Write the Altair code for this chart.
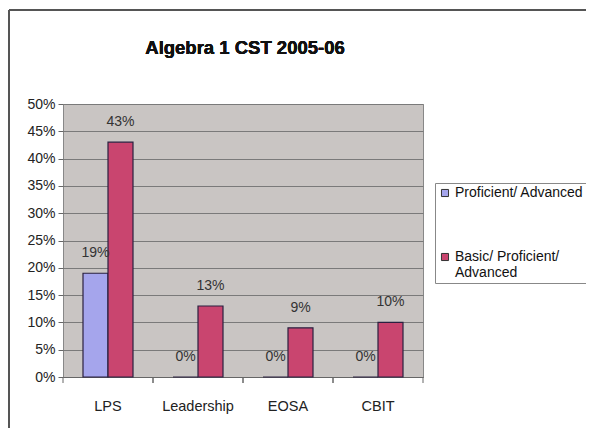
import altair as alt
import pandas as pd

categories = ["LPS", "Leadership", "EOSA", "CBIT"]
series_names = ["Proficient/ Advanced", "Basic/ Proficient/\nAdvanced"]
proficient_adv = [0.19, 0.0, 0.0, 0.0]
basic_prof_adv = [0.43, 0.13, 0.09, 0.10]
y_ticks = [0, 0.05, 0.10, 0.15, 0.20, 0.25, 0.30, 0.35, 0.40, 0.45, 0.50]
chart_title = "Algebra 1 CST 2005-06"

rows = []
for i, c in enumerate(categories):
    rows.append({"cat": c, "series": series_names[0], "val": proficient_adv[i]})
    rows.append({"cat": c, "series": series_names[1], "val": basic_prof_adv[i]})
df = pd.DataFrame(rows)
cat_df = pd.DataFrame({"cat": categories})

FONT = "Liberation Sans"

xscale = alt.Scale(paddingInner=0, paddingOuter=0)
x = alt.X("cat:N", sort=categories, title=None, scale=xscale,
          axis=alt.Axis(labelAngle=0, labelFontSize=14.5, labelColor="#222",
                        labelFont=FONT, ticks=False, domainColor="#666",
                        labelPadding=22))
xo = alt.XOffset("series:N", sort=series_names,
                 scale=alt.Scale(paddingInner=0, paddingOuter=0.8))
yaxis = alt.Axis(values=y_ticks, format=".0%", labelFontSize=14,
                 labelFont=FONT, labelColor="#222", tickSize=5,
                 tickColor="#666", domain=False, labelOverlap=False,
                 gridColor="#7a7a7a", gridWidth=1, labelPadding=3)
y = alt.Y("val:Q", title=None,
          scale=alt.Scale(domain=[0, 0.5], nice=False), axis=yaxis)

bars = alt.Chart(df).mark_bar(stroke="#2a2040", strokeWidth=1.2).encode(
    x=x, xOffset=xo, y=y,
    color=alt.Color("series:N", sort=series_names,
                    scale=alt.Scale(domain=series_names,
                                    range=["#a5a5ec", "#c9456f"]),
                    legend=alt.Legend(title=None, orient="none",
                                      legendX=372, legendY=79,
                                      labelFont=FONT, labelFontSize=14,
                                      labelColor="#111", symbolType="square",
                                      symbolSize=50, symbolStrokeColor="#333",
                                      symbolStrokeWidth=1,
                                      strokeColor="#888", padding=3,
                                      labelOffset=3,
                                      rowPadding=50, labelLimit=300,
                                      labelExpr="split(datum.label, '\\n')")),
)

labels = alt.Chart(df).mark_text(dy=-13, font=FONT, fontSize=14,
                                 color="#333", baseline="bottom").encode(
    x=x, xOffset=xo, y=y,
    text=alt.Text("val:Q", format=".0%"),
)

ticks_left = alt.Chart(cat_df).mark_rule(color="#666").encode(
    x=alt.X("cat:N", sort=categories, bandPosition=0),
    y=alt.value(273), y2=alt.value(279))
ticks_right = alt.Chart(cat_df).mark_rule(color="#666").encode(
    x=alt.X("cat:N", sort=categories, bandPosition=1),
    y=alt.value(273), y2=alt.value(279))

title_mark = alt.Chart(cat_df).mark_text(
    font=FONT, fontSize=18.5, fontWeight="bold", color="#111",
    align="center", baseline="middle").encode(
    x=alt.value(182), y=alt.value(-56), text=alt.value(chart_title))

frame_top = alt.Chart(cat_df).mark_rule(color="#555", strokeWidth=2).encode(
    x=alt.value(-54), x2=alt.value(600), y=alt.value(-94))
frame_left = alt.Chart(cat_df).mark_rule(color="#555", strokeWidth=2).encode(
    x=alt.value(-54), y=alt.value(-94), y2=alt.value(400))

chart = alt.layer(bars, labels, ticks_left, ticks_right, title_mark,
                  frame_top, frame_left).properties(
    width=360, height=273,
    autosize=alt.AutoSizeParams(type="none"),
    padding={"left": 55, "top": 96, "right": 163, "bottom": 51},
).configure_view(fill="#c9c5c3", stroke="#888", strokeWidth=1)

chart.save("out.html", embed_options={"renderer": "svg", "actions": False})
